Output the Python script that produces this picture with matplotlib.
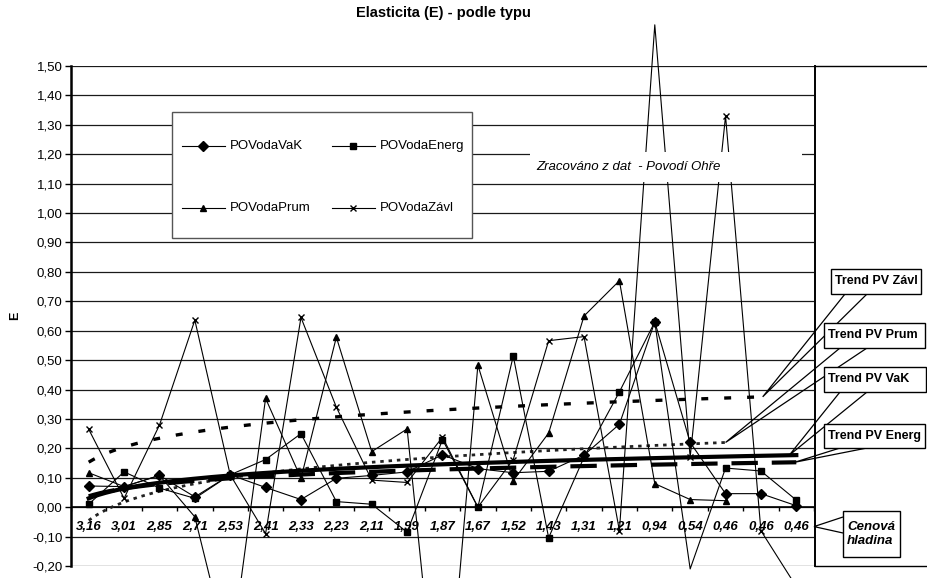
import numpy as np
import matplotlib
matplotlib.use("Agg")
import matplotlib.pyplot as plt
from matplotlib.patches import Rectangle, Polygon
from matplotlib.lines import Line2D

plt.rcParams['font.family'] = ['Liberation Sans', 'DejaVu Sans']
plt.rcParams['lines.scale_dashes'] = False

# ---------------- data ----------------
categories = ["3,16", "3,01", "2,85", "2,71", "2,53", "2,41", "2,33", "2,23", "2,11", "1,99",
              "1,87", "1,67", "1,52", "1,43", "1,31", "1,21", "0,94", "0,54", "0,46", "0,46", "0,46"]

vak = [0.072, 0.070, 0.108, 0.035, 0.110, 0.067, 0.026, 0.098, 0.108, 0.120, 0.178,
       0.131, 0.117, 0.122, 0.177, 0.282, 0.630, 0.220, 0.046, 0.046, 0.005]
energ = [0.010, 0.120, 0.065, 0.030, 0.110, 0.162, 0.250, 0.019, 0.010, -0.085, 0.230,
         0.000, 0.514, -0.104, 0.170, 0.392, 0.630, -0.210, 0.133, 0.123, 0.024]
prum = [0.117, 0.070, 0.108, -0.033, -0.520, 0.370, 0.098, 0.578, 0.189, 0.266, -0.900,
        0.483, 0.090, 0.252, 0.650, 0.770, 0.080, 0.026, 0.022]
zavl = [0.265, 0.030, 0.279, 0.636, 0.110, -0.090, 0.645, 0.340, 0.092, 0.084, 0.238,
        0.000, 0.162, 0.566, 0.580, -0.080, 1.640, 0.170, 1.330, -0.080, -0.270]

series_names = ["POVodaVaK", "POVodaEnerg", "POVodaPrum", "POVodaZávl"]

# logarithmic trend lines: y = a + b*ln(k)
trend_vak = (0.030, 0.0483)
trend_energ = (0.037, 0.0380)
trend_prum = (-0.045, 0.0900)
trend_zavl = (0.153, 0.0741)
trend_labels = ["Trend PV Závl", "Trend PV Prum", "Trend PV VaK", "Trend PV Energ"]

title = "Elasticita (E) - podle typu"
ylabel = "E"
note = "Zracováno z dat  - Povodí Ohře"
axis_note = "Cenová\nhladina"

yticks = np.round(np.arange(-0.2, 1.5001, 0.1), 2)

# ---------------- figure ----------------
W, H = 928, 578
fig = plt.figure(figsize=(W / 100, H / 100), dpi=100)
L, R, T, B = 71, 814, 66, 566
ax = fig.add_axes([L / W, 1 - B / H, (R - L) / W, (B - T) / H])
n = len(categories)
YMIN, YMAX = -0.2, 1.5
ax.set_xlim(-0.5, n - 0.5)
ax.set_ylim(YMIN, YMAX)

for s in ["top", "right", "bottom"]:
    ax.spines[s].set_visible(False)
ax.spines["left"].set_linewidth(1.8)
ax.spines["left"].set_zorder(6)

ax.set_yticks(yticks)
ax.set_yticklabels([f"{v:.2f}".replace(".", ",").replace("-0,00", "0,00") for v in yticks],
                   fontsize=9.5)
ax.tick_params(axis="y", direction="out", length=4, width=1, pad=2)
ax.set_xticks([])

ax.hlines(yticks, -0.5, n - 0.5, color="#1a1a1a", lw=0.9, zorder=1)
ax.axhline(0, color="black", lw=1.2, zorder=2)
ax.vlines(np.arange(-0.5, n), -0.014, 0, color="black", lw=1, zorder=2)

for i, c in enumerate(categories):
    ax.text(i, -0.066, c, ha="center", va="center", fontsize=9.5,
            fontweight="bold", fontstyle="italic", zorder=3)

ax.set_ylabel(ylabel, fontsize=9, fontweight="bold")
ax.yaxis.set_label_coords(-50 / (R - L), 0.5)

# ---------------- series ----------------
specs = [(vak, "D", 5.5), (energ, "s", 4.5), (prum, "^", 5), (zavl, "x", 5)]
for data, m, ms in specs:
    x = np.arange(len(data))
    y = np.asarray(data, dtype=float)
    ax.plot(x, y, "-", color="black", lw=0.8, clip_on=False, zorder=4)
    ym = np.where((y >= YMIN) & (y <= YMAX), y, np.nan)
    ax.plot(x, ym, linestyle="none", marker=m, ms=ms, color="black",
            mec="black", mew=1.0, zorder=5)

# ---------------- trend lines ----------------
def trend(coef, npts):
    kk = np.linspace(1, npts, 300)
    return kk - 1, coef[0] + coef[1] * np.log(kk)

tx, ty = trend(trend_zavl, 20)
ax.plot(tx, ty, color="black", lw=2.4, linestyle=(0, (5, 11.5)), zorder=3)
tx, ty = trend(trend_prum, len(prum))
ax.plot(tx, ty, color="#222222", lw=2.0, linestyle=(0, (2.5, 3.5)), zorder=3)
tx, ty = trend(trend_energ, len(energ))
ax.plot(tx, ty, color="black", lw=3.0, linestyle=(0, (19, 10)), zorder=3)
tx, ty = trend(trend_vak, len(vak))
ax.plot(tx, ty, color="black", lw=3.0, zorder=3)

# ---------------- overlay (pixel coordinates) ----------------
ov = fig.add_axes([0, 0, 1, 1], zorder=10)
ov.set_xlim(0, W)
ov.set_ylim(H, 0)
ov.axis("off")
ov.patch.set_visible(False)


def d2p(xd, yd):
    disp = ax.transData.transform((xd, yd))
    return ov.transData.inverted().transform(disp)


# frame on the right
ov.plot([815, 815], [T, B], color="black", lw=1.4)
ov.plot([815, W], [T, T], color="black", lw=1.0)
ov.plot([815, W], [B, B], color="black", lw=1.0)

# title
ov.text(443, 13, title, ha="center", va="center", fontsize=10.5, fontweight="bold")

# note box
ov.add_patch(Rectangle((530, 152), 272, 30, facecolor="white", edgecolor="none"))
ov.text(536, 167, note, ha="left", va="center", fontsize=9.5, fontstyle="italic")

# legend
ov.add_patch(Rectangle((172, 112), 300, 126, facecolor="white", edgecolor="#555555", lw=1))
leg_pos = [(182, 146), (332, 146), (182, 208), (332, 208)]
for (lx, ly), name, (_, m, ms) in zip(leg_pos, series_names, specs):
    ov.add_line(Line2D([lx, lx + 43], [ly, ly], color="black", lw=0.8))
    ov.add_line(Line2D([lx + 21.5], [ly], marker=m, ms=ms - 0.5, color="black", mew=1.0))
    ov.text(lx + 48, ly, name, ha="left", va="center", fontsize=9.5)

# callouts
def callout(box, base, tip, text, style="normal", tx=None, fs=9):
    x0, y0, x1, y1 = box
    ov.add_patch(Polygon([base[0], tip, base[1]], closed=False, fill=False,
                         edgecolor="black", lw=0.9))
    ov.add_patch(Rectangle((x0, y0), x1 - x0, y1 - y0, facecolor="white",
                           edgecolor="black", lw=1.0))
    ov.text(tx if tx else x0 + 4, (y0 + y1) / 2, text, ha="left", va="center",
            fontsize=fs, fontweight="bold", fontstyle=style, linespacing=1.2)


callout((831, 269, 921, 294), [(845, 294), (867, 294)],
        d2p(19.05, trend_zavl[0] + trend_zavl[1] * np.log(20.05)), trend_labels[0])
callout((824, 323, 925, 348), [(840, 348), (867, 348)],
        d2p(18.0, trend_prum[0] + trend_prum[1] * np.log(19.0)), trend_labels[1])
callout((824, 367, 926, 392), [(840, 392), (867, 392)],
        d2p(19.8, trend_vak[0] + trend_vak[1] * np.log(20.8)), trend_labels[2])
callout((824, 424, 925, 448), [(840, 448), (867, 448)],
        d2p(19.95, trend_energ[0] + trend_energ[1] * np.log(20.95)), trend_labels[3])
callout((843, 511, 900, 557), [(843, 517), (843, 533)],
        d2p(n - 0.5, -0.066), axis_note, style="italic", tx=847, fs=9.5)

fig.savefig("out.png", dpi=100)
